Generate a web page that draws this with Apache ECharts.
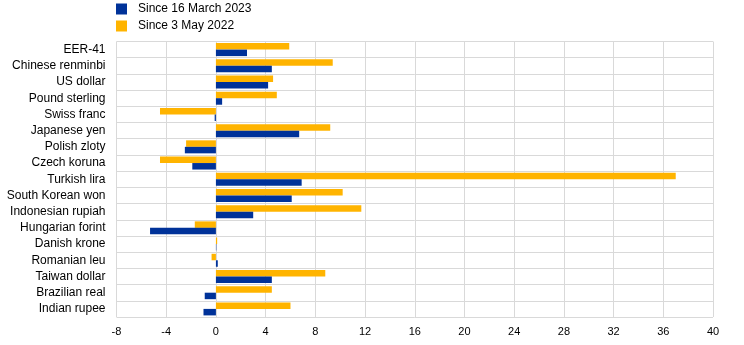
<!DOCTYPE html>
<html><head><meta charset="utf-8">
<script src="https://cdn.jsdelivr.net/npm/echarts@6/dist/echarts.min.js"></script>
<style>html,body{margin:0;padding:0;background:#fff}#c{width:744px;height:345px}</style>
</head><body><div id="c"></div>
<script>
const categories = ["EER-41","Chinese renminbi","US dollar","Pound sterling","Swiss franc","Japanese yen","Polish zloty","Czech koruna","Turkish lira","South Korean won","Indonesian rupiah","Hungarian forint","Danish krone","Romanian leu","Taiwan dollar","Brazilian real","Indian rupee"];
const seriesNames = ["Since 16 March 2023","Since 3 May 2022"];
const sinceMarch2023 = [2.5,4.5,4.2,0.5,-0.1,6.7,-2.5,-1.9,6.9,6.1,3.0,-5.3,0.03,0.15,4.5,-0.9,-1.0];
const sinceMay2022 = [5.9,9.4,4.6,4.9,-4.5,9.2,-2.4,-4.5,37.0,10.2,11.7,-1.7,0.1,-0.35,8.8,4.5,6.0];
const xTicks = {min:-8,max:40,interval:4};

const chart = echarts.init(document.getElementById('c'));
const font = 'Liberation Sans, Arial, sans-serif';
chart.setOption({
  animation:false,
  legend:{
    data:seriesNames, orient:'vertical', left:116, top:3, padding:0,
    itemWidth:11, itemHeight:11, itemGap:5,
    icon:'rect',
    textStyle:{fontFamily:font,fontSize:12,color:'#000',padding:[0,0,0,6]}
  },
  grid:{left:116.5,right:31,top:41.5,bottom:28},
  xAxis:{
    type:'value', min:xTicks.min, max:xTicks.max, interval:xTicks.interval,
    axisLine:{show:false}, axisTick:{show:false},
    axisLabel:{fontFamily:font,fontSize:11,color:'#000',margin:9},
    splitLine:{show:true,lineStyle:{color:'#d9d9d9',width:1}}
  },
  yAxis:{
    type:'category', data:categories, inverse:true,
    axisLine:{show:false}, axisTick:{show:false},
    axisLabel:{fontFamily:font,fontSize:12,color:'#000',margin:11},
    splitLine:{show:true,lineStyle:{color:'#d9d9d9',width:1}}
  },
  series:[
    {name:seriesNames[1],type:'bar',data:sinceMay2022,itemStyle:{color:'#ffb400'},barWidth:6.5,barGap:'0%'},
    {name:seriesNames[0],type:'bar',data:sinceMarch2023,itemStyle:{color:'#003299'},barWidth:6.5,barGap:'0%'}
  ]
});
</script></body></html>
